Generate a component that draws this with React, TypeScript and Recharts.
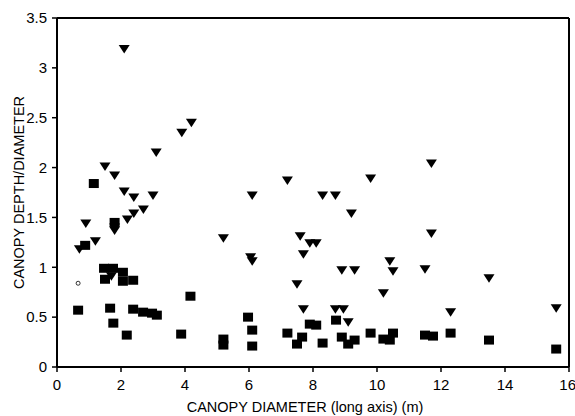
import React from 'react';
import { ScatterChart, Scatter, XAxis, YAxis, ReferenceLine } from 'recharts';

const triX = [0.7, 0.9, 1.2, 1.5, 1.8, 1.8, 1.8, 2.1, 2.1, 2.2, 2.4, 2.4, 2.7, 3.0, 3.1, 3.9, 4.2, 1.7, 5.2, 6.1, 6.05, 6.1, 7.2, 7.6, 7.9, 8.1, 7.7, 8.3, 8.7, 9.2, 9.8, 7.5, 7.7, 8.9, 9.3, 8.7, 8.95, 9.1, 10.4, 10.5, 10.2, 11.5, 11.7, 11.7, 12.3, 13.5, 15.6];
const triY = [1.18, 1.44, 1.26, 2.01, 1.92, 1.40, 1.37, 3.19, 1.76, 1.48, 1.70, 1.54, 1.58, 1.72, 2.15, 2.35, 2.45, 0.91, 1.29, 1.72, 1.10, 1.06, 1.87, 1.31, 1.24, 1.24, 1.13, 1.72, 1.72, 1.54, 1.89, 0.83, 0.58, 0.97, 0.97, 0.58, 0.58, 0.45, 1.06, 0.96, 0.74, 0.98, 2.04, 1.34, 0.55, 0.89, 0.59];

const sqX = [0.66, 0.88, 1.15, 1.47, 1.75, 2.06, 1.5, 2.06, 2.38, 1.8, 1.66, 1.76, 2.18, 2.38, 2.69, 2.97, 3.12, 3.88, 4.17, 5.2, 5.2, 5.97, 6.1, 6.1, 7.2, 7.66, 7.5, 7.9, 8.1, 8.3, 8.72, 8.9, 9.1, 9.3, 9.8, 10.2, 10.4, 10.5, 11.5, 11.75, 12.3, 13.5, 15.6];
const sqY = [0.57, 1.22, 1.84, 0.99, 0.99, 0.95, 0.88, 0.86, 0.87, 1.45, 0.59, 0.44, 0.32, 0.58, 0.55, 0.54, 0.52, 0.33, 0.71, 0.28, 0.22, 0.50, 0.37, 0.21, 0.34, 0.30, 0.23, 0.43, 0.42, 0.24, 0.47, 0.30, 0.23, 0.27, 0.34, 0.28, 0.27, 0.34, 0.32, 0.31, 0.34, 0.27, 0.18];

const openX = [0.66];
const openY = [0.84];

const xTicks = [0, 2, 4, 6, 8, 10, 12, 14, 16];
const yTicks = [0, 0.5, 1, 1.5, 2, 2.5, 3, 3.5];

const xTitle = 'CANOPY DIAMETER (long axis) (m)';
const yTitle = 'CANOPY DEPTH/DIAMETER';

const zip = (xs: number[], ys: number[]) => xs.map((x, i) => ({ x, y: ys[i] }));

const triData = zip(triX, triY);
const sqData = zip(sqX, sqY);
const openData = zip(openX, openY);

const Tri = (p: any) => {
  const { cx, cy } = p;
  return <polygon points={`${cx - 5.5},${cy - 4} ${cx + 5.5},${cy - 4} ${cx},${cy + 4.5}`} fill="#000" />;
};
const Sq = (p: any) => <rect x={p.cx - 5} y={p.cy - 4.5} width={10} height={9} fill="#000" />;
const Open = (p: any) => <circle cx={p.cx} cy={p.cy} r={2} fill="#fff" stroke="#000" strokeWidth={0.8} />;

const font = '"Liberation Sans", Arial, sans-serif';

const XTick = (p: any) => {
  const { x, y, payload, index } = p;
  const last = index === xTicks.length - 1;
  return (
    <text x={x} y={y} dy="0.71em" textAnchor={last ? 'end' : 'middle'} dx={last ? 7 : 0} fill="#000" fontSize={15} fontFamily={font}>
      {payload.value}
    </text>
  );
};

export default function App() {
  return (
    <div style={{ position: 'absolute', left: 0, top: 0, width: 575, height: 416, background: '#fff' }}>
      <ScatterChart width={575} height={416} margin={{ top: 18, right: 6, bottom: 0, left: 0 }} style={{ fontFamily: font }}>
        <XAxis
          type="number"
          dataKey="x"
          domain={[0, 16]}
          ticks={xTicks}
          interval={0}
          height={49}
          axisLine={{ stroke: '#000', strokeWidth: 2 }}
          tickLine={{ stroke: '#000', strokeWidth: 1.5 }}
          tickSize={5}
          tickMargin={7}
          tick={XTick}
          label={{ value: xTitle, position: 'insideBottom', offset: 4, dx: -8, fill: '#000', fontSize: 14.5, fontFamily: font }}
        />
        <YAxis
          type="number"
          dataKey="y"
          domain={[0, 3.5]}
          ticks={yTicks}
          interval={0}
          width={57}
          axisLine={{ stroke: '#000', strokeWidth: 2 }}
          tickLine={{ stroke: '#000', strokeWidth: 1.5 }}
          tickSize={5}
          tickMargin={5}
          tick={{ fill: '#000', fontSize: 15, fontFamily: font }}
          label={{ value: yTitle, angle: -90, position: 'insideLeft', offset: 19, fill: '#000', fontSize: 14.5, fontFamily: font, style: { textAnchor: 'middle' } }}
        />
        <ReferenceLine y={3.5} stroke="#000" strokeWidth={2} />
        <ReferenceLine x={16} stroke="#000" strokeWidth={2} />
        <Scatter data={sqData} shape={Sq} isAnimationActive={false} />
        <Scatter data={triData} shape={Tri} isAnimationActive={false} />
        <Scatter data={openData} shape={Open} isAnimationActive={false} />
      </ScatterChart>
    </div>
  );
}
